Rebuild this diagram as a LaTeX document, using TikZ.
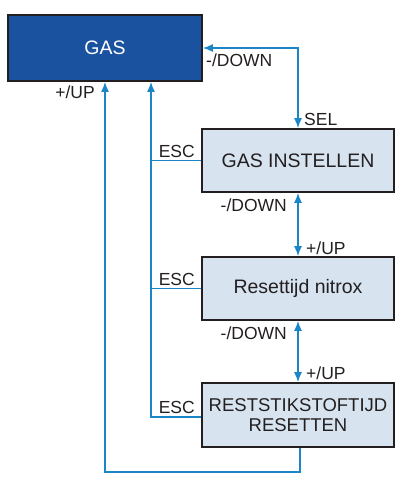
\documentclass[tikz,border=0pt]{standalone}
\usepackage{fontspec}
\setmainfont{Liberation Sans}
\usetikzlibrary{arrows.meta,calc}
\definecolor{darkbox}{HTML}{1A52A0}
\definecolor{lightbox}{HTML}{D7E4F0}
\definecolor{arrblue}{HTML}{1A86C8}
\definecolor{ink}{HTML}{231F20}
\begin{document}
\begin{tikzpicture}[x=1pt,y=-1pt,
  box/.style={draw=ink,line width=1.6pt,fill=lightbox,minimum width=192pt,minimum height=63pt,inner sep=0pt,font=\fontsize{19.5}{21}\selectfont,text=ink,align=center},
  mainbox/.style={box,fill=darkbox,text=white,minimum width=194pt,minimum height=66pt},
  conn/.style={draw=arrblue,line width=1.6pt},
  tip/.style={conn,-{Latex[length=10pt,width=8pt]}},
  dtip/.style={conn,{Latex[length=10pt,width=8pt]}-{Latex[length=10pt,width=8pt]}},
  lbl/.style={font=\fontsize{17.5}{18}\selectfont,text=ink,inner sep=0pt}]
\useasboundingbox (0,0) rectangle (399,477);
\node[mainbox] (gas) at (105,48) {GAS};
\node[box] (gi) at (298,160.5) {GAS INSTELLEN};
\node[box] (rn) at (298,288.5) {Resettijd nitrox};
\node[box,minimum height=64pt,font=\fontsize{18.5}{20.5}\selectfont] (rs) at (298,415) {RESTSTIKSTOFTIJD\\RESETTEN};
\coordinate (escx) at (151,0);
\coordinate (upy) at (0,472);
% GAS <-> GAS INSTELLEN
\draw[dtip] (gas.east) -| (gi.north);
% between boxes
\draw[dtip] (gi.south) -- (rn.north);
\draw[dtip] (rn.south) -- (rs.north);
% ESC
\draw[tip] ([yshift=-2pt]rs.west) -| (gas.south -| escx);
\draw[conn] (gi.west) -- (gi.west -| escx);
\draw[conn] (rn.west) -- (rn.west -| escx);
% +/UP
\draw[tip] ([xshift=2pt]rs.south) -- ([xshift=2pt]rs.south |- upy) -| (gas.south);
% labels
\node[lbl,anchor=west] (l1) at (206,60) {-/DOWN};
\node[lbl,anchor=west] (l2) at (304,119) {SEL};
\node[lbl,anchor=east] (l3) at (95,92) {+/UP};
\node[lbl,anchor=east] (l4) at (287,205) {-/DOWN};
\node[lbl,anchor=west] (l5) at (306,248.5) {+/UP};
\node[lbl,anchor=east] (l6) at (287,333.5) {-/DOWN};
\node[lbl,anchor=west] (l7) at (306,373) {+/UP};
\node[lbl,anchor=east] (e1) at (195,151) {ESC};
\node[lbl,anchor=east] (e2) at (195,279) {ESC};
\node[lbl,anchor=east] (e3) at (195,407.5) {ESC};
\end{tikzpicture}
\end{document}
